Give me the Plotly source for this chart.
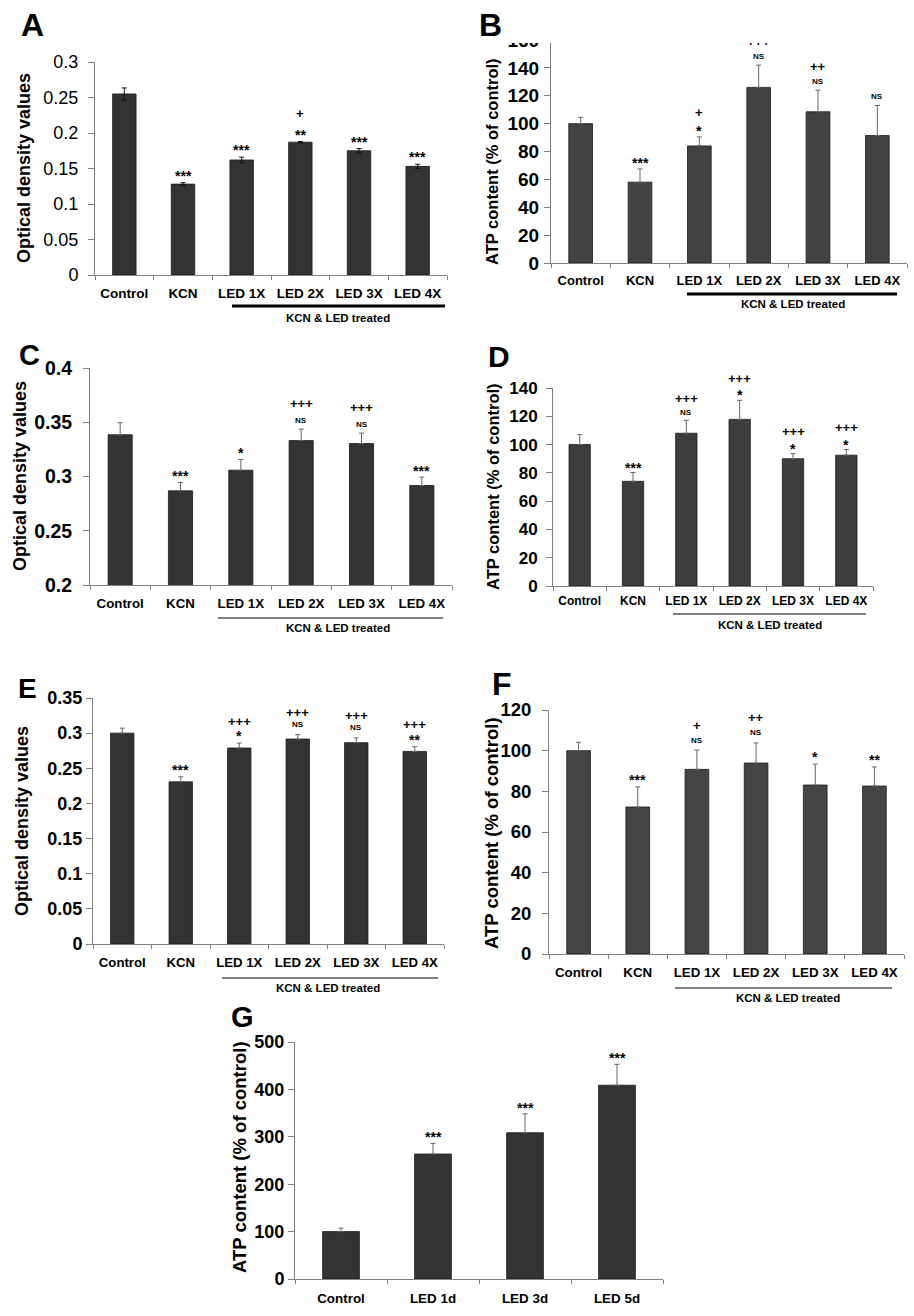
import plotly.graph_objects as go

W, H = 914, 1316

# ---------------- data ----------------
cats6 = ["Control", "KCN", "LED 1X", "LED 2X", "LED 3X", "LED 4X"]
cats_g = ["Control", "LED 1d", "LED 3d", "LED 5d"]

a_vals = [0.255, 0.128, 0.162, 0.187, 0.175, 0.153]
a_err = [0.0085, 0.002, 0.004, 0.001, 0.003, 0.003]
a_sig1 = ["", "***", "***", "**", "***", "***"]
a_sig2 = ["", "", "", "+", "", ""]

b_vals = [100, 58, 84, 126, 108.5, 91.5]
b_err = [4.5, 9.5, 6.5, 16, 15.5, 21.5]
b_sig1 = ["", "***", "*", "NS", "NS", "NS"]
b_sig2 = ["", "", "+", "+++", "++", ""]

c_vals = [0.3385, 0.2868, 0.3058, 0.3331, 0.3304, 0.2917]
c_err = [0.011, 0.0077, 0.0099, 0.0105, 0.0096, 0.0077]
c_sig1 = ["", "***", "*", "NS", "NS", "***"]
c_sig2 = ["", "", "", "+++", "+++", ""]

d_vals = [100, 74, 108, 117.8, 90, 92.5]
d_err = [7, 6.2, 9.2, 13.5, 3.6, 4]
d_sig1 = ["", "***", "NS", "*", "*", "*"]
d_sig2 = ["", "", "+++", "+++", "+++", "+++"]

e_vals = [0.300, 0.2307, 0.2788, 0.2916, 0.2864, 0.274]
e_err = [0.0071, 0.0072, 0.0071, 0.0062, 0.0067, 0.0067]
e_sig1 = ["", "***", "*", "NS", "NS", "**"]
e_sig2 = ["", "", "+++", "+++", "+++", "+++"]

f_vals = [100, 72.3, 90.8, 93.9, 83.1, 82.6]
f_err = [4.1, 9.9, 9.5, 9.9, 10.3, 9.4]
f_sig1 = ["", "***", "NS", "NS", "*", "**"]
f_sig2 = ["", "", "+", "++", "", ""]

g_vals = [100, 263.7, 308.6, 408.8]
g_err = [7.3, 22.4, 39.9, 44.2]
g_sig1 = ["", "***", "***", "***"]
g_sig2 = ["", "", "", ""]

od_title = "Optical density values"
atp_title = "ATP content (% of control)"
group_label = "KCN & LED treated"

FONT = "Arial, Liberation Sans, Helvetica, sans-serif"


def px(x):
    return x / W


def py(y):
    return 1 - y / H


# ---------------- layout specs (pixels) ----------------
panels = [
    dict(letter="A", cats=cats6, vals=a_vals, err=a_err, sig=(a_sig1, a_sig2), sym=True,
         xd=(95, 447), yd=(62, 275), rng=(0, 0.3), dtick=0.05, title=od_title,
         tfs=18, tbold=False, tstand=6, cfs=13.5, cstand=6, color="#333333", ecol="#111111",
         letter_xy=(32, 25), lfs=32, title_xy=(24, 168), title_fs=18,
         offs=(10, 28), line=(232, 445, 306, 3), glab=(338, 318)),
    dict(letter="B", cats=cats6, vals=b_vals, err=b_err, sig=(b_sig1, b_sig2), sym=False,
         xd=(551, 907), yd=(40, 263), rng=(0, 160), dtick=20, title=atp_title,
         tfs=19, tbold=True, tstand=1, cfs=13, cstand=5, color="#424242", ecol="#666666",
         letter_xy=(490, 25), lfs=32, title_xy=(492, 162), title_fs=16.5,
         offs=(9, 24), line=(687, 897, 294, 3), glab=(793, 304)),
    dict(letter="C", cats=cats6, vals=c_vals, err=c_err, sig=(c_sig1, c_sig2), sym=False,
         xd=(90, 452), yd=(368, 585), rng=(0.2, 0.4), dtick=0.05, title=od_title,
         tfs=19.5, tbold=True, tstand=7, cfs=13.3, cstand=6, color="#333333", ecol="#666666",
         letter_xy=(29, 355), lfs=29, title_xy=(20, 476), title_fs=18,
         offs=(9, 26), line=(218, 443, 618, 1), glab=(338, 628)),
    dict(letter="D", cats=cats6, vals=d_vals, err=d_err, sig=(d_sig1, d_sig2), sym=False,
         xd=(553, 873), yd=(388, 586), rng=(0, 140), dtick=20, title=atp_title,
         tfs=17, tbold=True, tstand=5, cfs=12, cstand=4, color="#3d3d3d", ecol="#666666",
         letter_xy=(499, 356), lfs=30, title_xy=(493, 486), title_fs=16.5,
         offs=(8, 22), line=(673, 866, 614, 1), glab=(770, 625)),
    dict(letter="E", cats=cats6, vals=e_vals, err=e_err, sig=(e_sig1, e_sig2), sym=False,
         xd=(93, 444), yd=(698, 944), rng=(0, 0.35), dtick=0.05, title=od_title,
         tfs=18, tbold=True, tstand=0, cfs=13.2, cstand=6, color="#333333", ecol="#666666",
         letter_xy=(27, 688), lfs=28, title_xy=(22, 821), title_fs=18,
         offs=(10, 22), line=(222, 438, 978, 1), glab=(328, 988)),
    dict(letter="F", cats=cats6, vals=f_vals, err=f_err, sig=(f_sig1, f_sig2), sym=False,
         xd=(549, 904), yd=(710, 954), rng=(0, 120), dtick=20, title=atp_title,
         tfs=18.5, tbold=True, tstand=7, cfs=13.3, cstand=6, color="#444444", ecol="#666666",
         letter_xy=(502, 684), lfs=32, title_xy=(491, 833), title_fs=18.5,
         offs=(10, 25), line=(675, 892, 988, 1), glab=(788, 998)),
    dict(letter="G", cats=cats_g, vals=g_vals, err=g_err, sig=(g_sig1, g_sig2), sym=False,
         xd=(295, 663), yd=(1042, 1279), rng=(0, 500), dtick=100, title=atp_title,
         tfs=18, tbold=True, tstand=0, cfs=13.4, cstand=7, color="#333333", ecol="#666666",
         letter_xy=(242, 1017), lfs=29, title_xy=(239, 1157), title_fs=18.5,
         offs=(9, 23), line=None, glab=None),
]

fig = go.Figure()
annotations = []
shapes = []
layout_axes = {}

for i, p in enumerate(panels, start=1):
    xa = "x" if i == 1 else f"x{i}"
    ya = "y" if i == 1 else f"y{i}"
    n = len(p["cats"])
    err = dict(type="data", array=p["err"], color=p["ecol"], thickness=1, width=2.5, visible=True)
    if p["sym"]:
        err["symmetric"] = True
    else:
        err["symmetric"] = False
        err["arrayminus"] = [0] * n
    fig.add_trace(go.Bar(
        x=p["cats"], y=p["vals"], error_y=err, width=0.4,
        marker=dict(color=p["color"], line=dict(color="#1a1a1a", width=0.8)),
        xaxis=xa, yaxis=ya, showlegend=False, hoverinfo="skip"))

    # significance marks, stacked above the error bar tops
    for row, labels in enumerate(p["sig"]):
        for c, v, e, lab in zip(p["cats"], p["vals"], p["err"], labels):
            if not lab:
                continue
            off = p["offs"][row]
            if "*" in lab:
                size = 14
                off -= 3
            elif lab == "NS":
                size = 8
            else:
                size = 13
            annotations.append(dict(
                text=lab, x=c, y=v + e, xref=xa, yref=ya, yshift=off, showarrow=False,
                xanchor="center", yanchor="middle",
                font=dict(family=FONT, size=size, color="#000000", weight="bold")))

    xkey = "xaxis" if i == 1 else f"xaxis{i}"
    ykey = "yaxis" if i == 1 else f"yaxis{i}"
    layout_axes[xkey] = dict(
        domain=[px(p["xd"][0]), px(p["xd"][1])], anchor=ya, type="category",
        range=[-0.5, n - 0.5], showline=True, linecolor="#808080", linewidth=1,
        ticks="outside", tickson="boundaries", ticklen=4, tickcolor="#808080",
        tickfont=dict(family=FONT, size=p["cfs"], color="#000000", weight="bold"),
        ticklabelstandoff=p["cstand"], showgrid=False, zeroline=False, fixedrange=True,
        automargin=False)
    layout_axes[ykey] = dict(
        domain=[py(p["yd"][1]), py(p["yd"][0])], anchor=xa,
        range=list(p["rng"]), dtick=p["dtick"], tick0=0, showline=True, linecolor="#808080",
        linewidth=1, ticks="outside", ticklen=6, tickcolor="#808080",
        tickfont=dict(family=FONT, size=p["tfs"], color="#000000",
                      weight="bold" if p["tbold"] else "normal"),
        ticklabelstandoff=p["tstand"], showgrid=False, zeroline=False, fixedrange=True,
        automargin=False)

    if p["line"]:
        x0, x1, yl, lw = p["line"]
        shapes.append(dict(type="line", xref="paper", yref="paper", x0=px(x0), x1=px(x1),
                           y0=py(yl), y1=py(yl), line=dict(color="#000000", width=lw)))
        annotations.append(dict(
            text=group_label, x=px(p["glab"][0]), y=py(p["glab"][1]), xref="paper", yref="paper",
            showarrow=False, xanchor="center", yanchor="middle",
            font=dict(family=FONT, size=11.5, color="#000000", weight="bold")))

# white strip that crops the top of panel B (as in the original composite)
annotations.append(dict(
    text=" ", x=px(462), y=1.0, xref="paper", yref="paper", xanchor="left", yanchor="top",
    width=W - 462, height=43, bgcolor="#ffffff", borderpad=0, borderwidth=0, showarrow=False))

for p in panels:
    annotations.append(dict(
        text=p["title"], x=px(p["title_xy"][0]), y=py(p["title_xy"][1]), xref="paper", yref="paper",
        textangle=-90, showarrow=False, xanchor="center", yanchor="middle",
        font=dict(family=FONT, size=p["title_fs"], color="#000000", weight="bold")))
    annotations.append(dict(
        text=p["letter"], x=px(p["letter_xy"][0]), y=py(p["letter_xy"][1]), xref="paper", yref="paper",
        showarrow=False, xanchor="center", yanchor="middle",
        font=dict(family=FONT, size=p["lfs"], color="#000000", weight="bold")))

fig.update_layout(
    width=W, height=H, autosize=False,
    margin=dict(l=0, r=0, t=0, b=0, pad=0, autoexpand=False),
    paper_bgcolor="#ffffff", plot_bgcolor="#ffffff",
    showlegend=False, annotations=annotations, shapes=shapes, bargap=0.6,
    **layout_axes)

fig.write_html(
    "out.html",
    config={"displayModeBar": False, "responsive": False},
    post_script=("document.documentElement.style.margin='0';"
                 "document.documentElement.style.overflow='hidden';"
                 "document.body.style.margin='0';document.body.style.padding='0';"
                 "document.body.style.overflow='hidden';"))
